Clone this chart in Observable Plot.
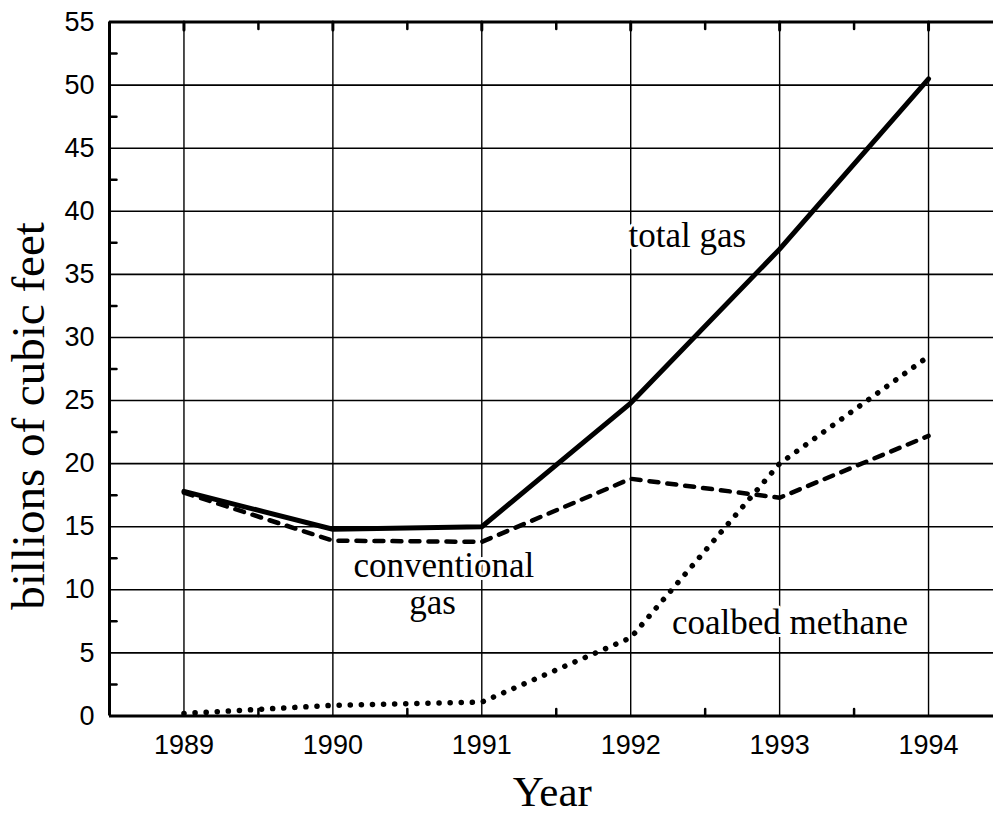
<!DOCTYPE html>
<html><head><meta charset="utf-8">
<script src="https://cdn.jsdelivr.net/npm/d3@7"></script>
<script src="https://cdn.jsdelivr.net/npm/@observablehq/plot@0.6"></script>
<style>html,body{margin:0;padding:0;background:#fff;overflow:hidden}#chart svg{overflow:hidden;display:block}</style>
</head><body><div id="chart"></div>
<script>
const years = [1989, 1990, 1991, 1992, 1993, 1994];
const totalGas = [17.8, 14.8, 15.0, 24.8, 37.0, 50.5];
const conventionalGas = [17.7, 13.9, 13.8, 18.8, 17.3, 22.2];
const coalbedMethane = [0.2, 0.85, 1.1, 6.2, 20.0, 28.5];
const yTicks = [0, 5, 10, 15, 20, 25, 30, 35, 40, 45, 50, 55];
const yMinorTicks = [2.5, 7.5, 12.5, 17.5, 22.5, 27.5, 32.5, 37.5, 42.5, 47.5, 52.5];
const xMinorTicks = [1989.5, 1990.5, 1991.5, 1992.5, 1993.5];
const labelText = ["total gas", "conventional", "gas", "coalbed methane"];
const labelYear = [1992.38, 1990.745, 1990.67, 1993.07];
const labelValue = [37.2, 11.0, 8.1, 6.5];
const xTitle = "Year";
const yTitle = "billions of cubic feet";

const rows = (vals) => years.map((yr, i) => ({year: yr, value: vals[i]}));
const labels = labelText.map((t, i) => ({text: t, year: labelYear[i], value: labelValue[i]}));
const tickShape = {draw(context, l) { context.moveTo(0, 0); context.lineTo(0, -l); }};

const serif = "'Liberation Serif', 'Times New Roman', serif";
const sans = "'Liberation Sans', Arial, sans-serif";

const chart = Plot.plot({
  width: 993,
  height: 818,
  marginLeft: 109,
  marginRight: -9.5,
  marginTop: 21.5,
  marginBottom: 102.5,
  style: {fontFamily: sans, fontSize: "27px", color: "black", background: "white", overflow: "hidden"},
  x: {domain: [1988.5, 1994.5], axis: null},
  y: {domain: [0, 55], axis: null},
  marks: [
    Plot.ruleY(yTicks, {stroke: "black", strokeWidth: 1.6}),
    Plot.ruleX(years, {stroke: "black", strokeWidth: 1.4}),
    Plot.vector(yMinorTicks, {y: d => d, frameAnchor: "left", length: 7, rotate: 90, anchor: "start", shape: tickShape, stroke: "black", strokeWidth: 2.5}),
    Plot.vector(xMinorTicks, {x: d => d, frameAnchor: "bottom", length: 7, rotate: 0, anchor: "start", shape: tickShape, stroke: "black", strokeWidth: 2.5}),
    Plot.vector(xMinorTicks, {x: d => d, frameAnchor: "top", length: 7, rotate: 180, anchor: "start", shape: tickShape, stroke: "black", strokeWidth: 2.5}),
    Plot.vector(years, {x: d => d, frameAnchor: "top", length: 8, rotate: 180, anchor: "start", shape: tickShape, stroke: "black", strokeWidth: 3}),
    Plot.ruleY([0, 55], {stroke: "black", strokeWidth: 3}),
    Plot.ruleX([1988.5], {stroke: "black", strokeWidth: 3}),
    Plot.axisY(yTicks, {tickSize: 0, tickPadding: 15, fontSize: 27, fontFamily: sans, label: null, stroke: "black", strokeWidth: 0.4}),
    Plot.axisX(years, {tickSize: 0, tickPadding: 19, fontSize: 27, fontFamily: sans, label: null, tickFormat: d => String(d), stroke: "black", strokeWidth: 0.4}),
    Plot.line(rows(coalbedMethane), {x: "year", y: "value", stroke: "black", strokeWidth: 5.5, strokeDasharray: "0.1 11", strokeLinecap: "round"}),
    Plot.line(rows(conventionalGas), {x: "year", y: "value", stroke: "black", strokeWidth: 4.5, strokeDasharray: "9 9", strokeLinecap: "round"}),
    Plot.line(rows(totalGas), {x: "year", y: "value", stroke: "black", strokeWidth: 5, strokeLinecap: "round"}),
    Plot.text(labels, {x: "year", y: "value", text: "text", fontFamily: serif, fontSize: 35, lineAnchor: "bottom", textAnchor: "middle", fill: "black", stroke: "white", strokeWidth: 6, paintOrder: "stroke"}),
    Plot.text([xTitle], {text: d => d, frameAnchor: "bottom", dx: -4, dy: 90, lineAnchor: "bottom", fontFamily: serif, fontSize: 43, fill: "black"}),
    Plot.text([yTitle], {text: d => d, frameAnchor: "left", dx: -66, dy: 47, rotate: -90, lineAnchor: "bottom", textAnchor: "middle", fontFamily: serif, fontSize: 47, fill: "black"})
  ]
});
document.getElementById("chart").appendChild(chart);
</script>
</body></html>
